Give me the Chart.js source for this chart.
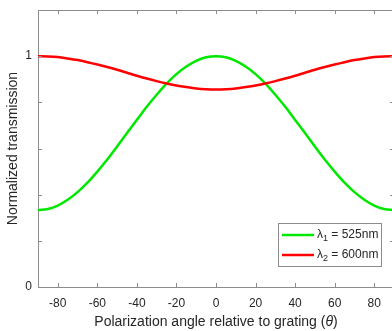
<!DOCTYPE html>
<html>
<head>
<meta charset="utf-8">
<script src="https://cdn.jsdelivr.net/npm/chart.js@4/dist/chart.umd.min.js"></script>
<style>
  html, body { margin: 0; padding: 0; background: #fff; overflow: hidden; }
  #wrap { width: 400px; height: 331px; }
</style>
</head>
<body>
<div id="wrap"><canvas id="chart" width="400" height="331"></canvas></div>
<script>
// polarization angle (deg)
const angles = [-90, -85, -80, -75, -70, -65, -60, -55, -50, -45, -40, -35, -30, -25, -20, -15, -10, -5, 0,
                5, 10, 15, 20, 25, 30, 35, 40, 45, 50, 55, 60, 65, 70, 75, 80, 85, 90];

// lambda1 = 525nm
const trans525 = [0.333, 0.338, 0.353, 0.378, 0.411, 0.452, 0.500, 0.552, 0.609, 0.667, 0.724, 0.781, 0.833,
                  0.881, 0.922, 0.955, 0.980, 0.995, 1.000, 0.995, 0.980, 0.955, 0.922, 0.881, 0.833, 0.781,
                  0.724, 0.667, 0.609, 0.552, 0.500, 0.452, 0.411, 0.378, 0.353, 0.338, 0.333];

// lambda2 = 600nm
const trans600 = [1.000, 0.999, 0.996, 0.990, 0.983, 0.974, 0.964, 0.953, 0.941, 0.928, 0.915, 0.903, 0.892,
                  0.882, 0.873, 0.866, 0.860, 0.857, 0.856, 0.857, 0.860, 0.866, 0.873, 0.882, 0.892, 0.903,
                  0.915, 0.928, 0.941, 0.953, 0.964, 0.974, 0.983, 0.990, 0.996, 0.999, 1.000];

const xTicks = [-80, -60, -40, -20, 0, 20, 40, 60, 80];
const yTicks = [0, 0.2, 0.4, 0.6, 0.8, 1, 1.2];
const yLabels = ['0', '', '', '', '', '1', ''];

const seriesNames = [['λ', '1', ' = 525nm'], ['λ', '2', ' = 600nm']];
const seriesColors = ['#00e800', '#ff0000'];

const font = '"Liberation Sans", Arial, Helvetica, sans-serif';
const axisColor = '#8c8c8c';
const textColor = '#262626';

// box, inward ticks, legend and x title
const decor = {
    id: 'decor',
    afterDraw(chart) {
        const { ctx, chartArea: a, scales: { x, y } } = chart;
        ctx.save();
        ctx.strokeStyle = axisColor;
        ctx.lineWidth = 1;
        ctx.beginPath();
        ctx.moveTo(a.left, a.top + 0.5);
        ctx.lineTo(a.right, a.top + 0.5);
        ctx.moveTo(a.right - 0.5, a.top);
        ctx.lineTo(a.right - 0.5, a.bottom);
        xTicks.forEach(v => {
            const px = Math.round(x.getPixelForValue(v)) + 0.5;
            ctx.moveTo(px, a.bottom);
            ctx.lineTo(px, a.bottom - 4);
            ctx.moveTo(px, a.top);
            ctx.lineTo(px, a.top + 4);
        });
        yTicks.forEach(v => {
            const py = Math.round(y.getPixelForValue(v)) + 0.5;
            ctx.moveTo(a.left, py);
            ctx.lineTo(a.left + 4, py);
            ctx.moveTo(a.right, py);
            ctx.lineTo(a.right - 4, py);
        });
        ctx.stroke();

        // x title with italic theta
        ctx.fillStyle = textColor;
        ctx.textBaseline = 'middle';
        const parts = [['Polarization angle relative to grating (', 'normal'], ['θ', 'italic'], [')', 'normal']];
        let w = 0;
        parts.forEach(p => { ctx.font = p[1] + ' 14px ' + font; w += ctx.measureText(p[0]).width; });
        let tx = (a.left + a.right) / 2 - w / 2;
        parts.forEach(p => {
            ctx.font = p[1] + ' 14px ' + font;
            ctx.fillText(p[0], tx, 322);
            tx += ctx.measureText(p[0]).width;
        });

        // legend
        const bw = 104, bh = 44;
        const bx = a.right - 12 - bw, by = a.bottom - 20 - bh;
        ctx.fillStyle = '#fff';
        ctx.fillRect(bx, by, bw, bh);
        ctx.strokeStyle = axisColor;
        ctx.strokeRect(bx + 0.5, by + 0.5, bw - 1, bh - 1);
        seriesNames.forEach((n, i) => {
            const ly = by + 12 + i * 20;
            ctx.strokeStyle = seriesColors[i];
            ctx.lineWidth = 2.5;
            ctx.beginPath();
            ctx.moveTo(bx + 4, ly);
            ctx.lineTo(bx + 36, ly);
            ctx.stroke();
            ctx.fillStyle = textColor;
            ctx.textBaseline = 'middle';
            let lx = bx + 39;
            ctx.font = '12px ' + font;
            ctx.fillText(n[0], lx, ly);
            lx += ctx.measureText(n[0]).width;
            ctx.font = '9px ' + font;
            ctx.fillText(n[1], lx, ly + 4);
            lx += ctx.measureText(n[1]).width;
            ctx.font = '12px ' + font;
            ctx.fillText(n[2], lx, ly);
        });
        ctx.restore();
    }
};

new Chart(document.getElementById('chart'), {
    type: 'line',
    data: {
        datasets: [
            {
                label: 'λ1 = 525nm',
                data: angles.map((a, i) => ({ x: a, y: trans525[i] })),
                borderColor: seriesColors[0],
                order: 1,
            },
            {
                label: 'λ2 = 600nm',
                data: angles.map((a, i) => ({ x: a, y: trans600[i] })),
                borderColor: seriesColors[1],
                order: 0,
            },
        ],
    },
    options: {
        responsive: false,
        animation: false,
        layout: { padding: { top: 10, right: 6, left: 0, bottom: 0 } },
        elements: {
            line: { borderWidth: 2.5, cubicInterpolationMode: 'monotone', fill: false },
            point: { radius: 0 },
        },
        plugins: {
            legend: { display: false },
            tooltip: { enabled: false },
        },
        scales: {
            x: {
                type: 'linear',
                min: -90,
                max: 90,
                afterBuildTicks: s => { s.ticks = xTicks.map(v => ({ value: v })); },
                afterFit: s => { s.height = 44; s.paddingLeft = 0; s.paddingRight = 0; },
                grid: { display: false, drawTicks: false },
                border: { display: true, color: axisColor },
                ticks: { color: textColor, font: { family: font, size: 12 }, padding: 9, maxRotation: 0 },
            },
            y: {
                min: 0,
                max: 1.2,
                afterBuildTicks: s => { s.ticks = yTicks.map(v => ({ value: v })); },
                afterFit: s => { s.width = 38; s.paddingTop = 0; s.paddingBottom = 0; },
                grid: { display: false, drawTicks: false },
                border: { display: true, color: axisColor },
                ticks: {
                    color: textColor,
                    font: { family: font, size: 12 },
                    padding: 6,
                    callback: (v, i) => yLabels[i],
                },
                title: {
                    display: true,
                    text: 'Normalized transmission',
                    color: textColor,
                    font: { family: font, size: 14 },
                    padding: { top: 5, bottom: 0 },
                },
            },
        },
    },
    plugins: [decor],
});
</script>
</body>
</html>
